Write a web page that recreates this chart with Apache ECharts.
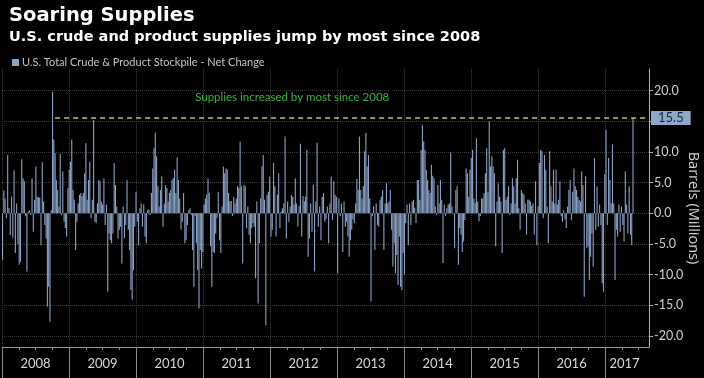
<!DOCTYPE html>
<html><head><meta charset="utf-8">
<script src="https://cdn.jsdelivr.net/npm/echarts@6/dist/echarts.min.js"></script>
<style>html,body{margin:0;padding:0;background:#000;}#c{width:704px;height:378px;}</style>
</head><body><div id="c"></div>
<script>
const titleText = 'Soaring Supplies';
const subtitleText = 'U.S. crude and product supplies jump by most since 2008';
const seriesName = 'U.S. Total Crude & Product Stockpile - Net Change';
const yAxisName = 'Barrels (Millions)';
const annotationText = 'Supplies increased by most since 2008';
const highlightValue = 15.5;
const highlightStart = [2008, 9, 17];   // year, month(0-based), day
const annotationAt = [2012, 4, 1];
const firstWeek = [2008, 0, 4];
const years = [2008, 2009, 2010, 2011, 2012, 2013, 2014, 2015, 2016, 2017];
const yTicks = [-20, -15, -10, -5, 0, 5, 10, 15, 20];

// weekly net change, million barrels
const weeksA = [-7.6, 3.7, 2.4, -0.8, 9.5, 0.8, -3.6, 2.7, -4.0, 7.0, -6.5, 1.6, -5.0, -8.4, -7.9, 8.8, 5.7, 5.2, -0.5, -9.5, 0.3, 0.5, -0.3, 5.7, -3.0, 2.2, 7.6, 2.7, 2.6, 2.5, -5.2, 8.3, 1.9, -1.9, -4.1, -15.2, -12.0, -17.7, 0.5, 19.8, 12.0, 9.8, 5.4, 3.8, 1.1, 9.7, -0.3, 6.8, -1.4, -2.4, -3.8, 4.1, 7.1, 8.4, 12.0, 3.8, 2.2, -6.0, -1.4, 1.6, 3.0, 3.3, 2.8, 3.3, 6.5, 11.4, 2.2];
const weeksB = [5.4, 8.4, -0.8, 2.2, 15.2, -1.4, -1.6, 1.6, 5.4, 5.2, 1.9, 1.4, 5.7, -1.9, 1.4, -12.8, -3.3, -4.4, -4.9, -3.3, 8.2, 4.6, 1.1, -4.1, -2.7, -2.2, -8.2, 1.1, -4.1, -1.9, 5.4, -2.7, -6.0, -12.5, -14.1, -9.3, -2.2, 3.5, -1.4, -5.2, 0.8, 1.6, -2.2, 1.4, -3.8, -4.9, 0.5, 0.6, -0.3, 3.3, 7.3, 10.6, 13.1, 9.3, 4.4, 1.1, 3.8, 6.0, -2.2, 1.6, 4.6, 4.1, 1.9, 3.3, 3.8, 5.4, 5.7];
const weeksC = [7.1, 3.3, 9.1, 5.4, 2.4, -2.7, -1.4, 3.3, -4.9, -4.4, -1.9, 0.5, 0.8, -0.3, -6.0, -12.0, -0.5, -4.9, -9.3, -15.5, -6.0, -9.0, -6.3, 1.4, 2.4, 3.0, 5.7, 3.3, -5.4, -12.0, -6.3, -6.5, -3.3, -0.8, 3.5, -4.4, -6.5, 1.1, 7.6, 6.5, 7.3, 7.1, 3.3, 1.9, 2.0, -0.4, 2.7, 1.6, 2.4, 4.4, 4.1, 11.7, 4.4, -8.2, 4.6, 4.4, -2.4, 1.1, -3.5, -4.9, -2.4, -1.6, -2.2, -10.6, 1.9, -14.7];
const weeksD = [-4.9, 2.4, 7.7, 9.5, 2.2, -18.2, 3.0, 3.5, 6.0, -3.8, -2.7, 8.2, 4.4, -3.8, 3.0, 6.5, -2.4, 0.3, 0.8, 1.6, 12.5, -4.1, 1.9, -1.4, 1.1, 3.0, 2.7, 1.4, 5.7, 1.6, -2.2, 1.2, 11.3, -3.8, 2.8, 1.9, 2.7, 10.3, -7.1, -4.1, 1.6, -3.0, 4.6, -9.5, 1.9, 11.5, -2.2, 1.1, -4.4, 2.7, 3.3, -1.4, -1.0, 1.1, -4.9, 1.6, 6.0, -1.1, 5.2, 3.0, 2.7, -9.8, 2.4, -0.5, 1.6, -6.3, 1.9];
const weeksE = [-2.2, -1.4, -3.8, -7.1, -4.4, -2.7, -1.0, -1.6, 1.6, 5.6, 3.8, 12.5, 3.8, 2.4, 4.4, 10.1, 13.1, 7.6, 9.5, 2.4, -14.4, -0.5, 1.1, -6.0, 1.6, -1.9, -2.2, 2.2, 2.7, 3.8, -6.0, 1.6, 4.9, 1.6, 1.9, 3.8, -2.7, -8.7, -4.9, -9.8, -6.8, -11.7, -3.8, -12.0, -12.5, -6.5, -10.0, -1.6, 1.4, -5.2, 1.6, -1.9, 1.9, 2.2, 0.9, -1.6, 5.4, 5.4, 2.2, 10.3, 14.4, 11.7, 10.3, 7.1, 5.4, 3.8];
const weeksF = [3.3, 7.9, 6.1, 5.7, 1.1, -0.3, 4.6, 1.6, 5.4, 2.2, -8.1, 1.4, -0.5, 0.8, 1.4, 1.6, 9.9, 1.1, -0.1, -5.7, 3.8, 4.4, -8.4, -2.4, -3.5, -6.3, -4.6, -1.1, 7.3, 6.5, 2.7, 7.1, 9.0, 10.3, 2.4, 1.7, 12.2, 1.9, -1.3, -0.5, 2.4, 2.4, 3.3, 6.5, 10.6, 3.5, 15.0, 7.6, 9.3, 7.6, 6.5, -5.4, 1.9, 4.9, 2.7, 1.9, -6.5, 10.3, 10.6, 2.2, 2.7, 4.4, -0.3, 1.6, 5.7, 4.4, 1.6];
const weeksG = [5.7, 8.7, 0.8, -2.7, 3.8, 3.3, 3.0, 1.6, -3.5, 2.2, 2.2, 1.9, 1.2, 1.6, -3.5, 5.2, -5.2, 1.1, 8.2, 10.3, 10.1, -0.8, 9.5, 7.1, 1.1, -4.9, 10.1, 4.4, 1.9, 7.1, 1.6, 7.1, 1.4, 2.2, 5.2, -0.5, -1.4, 0.5, -1.0, -2.4, 1.1, 3.8, 5.4, -1.1, 3.5, 7.3, 4.4, 3.8, 2.7, 2.2, 1.9, 6.8, 4.6, -13.6, 6.0, -5.7, -5.4, -10.9, -7.1, -3.3, -8.7, 9.0, -2.7, 4.4, -2.2, 1.4];
const weeksH = [-1.9, -11.4, -12.8, 6.3, 13.6, -1.9, 9.0, 5.4, 1.6, 11.2, 1.6, -10.9, -2.7, -3.8, 1.4, -3.0, 1.1, -1.9, -4.6, 6.8, 1.4, -3.3, 4.4, -3.5, -5.2, 15.5];

const values = [].concat(weeksA, weeksB, weeksC, weeksD, weeksE, weeksF, weeksG, weeksH);
const DAY = 86400000;
// convert a UTC timestamp to a fractional year for the value x-axis
function fy(t) {
  const y = new Date(t).getUTCFullYear();
  const a = Date.UTC(y, 0, 1), b = Date.UTC(y + 1, 0, 1);
  return y + (t - a) / (b - a);
}
const fyd = (y, m, d) => fy(Date.UTC(y, m, d));
const t0 = Date.UTC(firstWeek[0], firstWeek[1], firstWeek[2]);
const data = values.map((v, i) => [fy(t0 + i * 7 * DAY), v]);

const xMin = 2008;
const xMax = fyd(2017, 7, 28);
const yearLabelPos = years.map(y => y < 2017 ? y + 0.5 : fyd(2017, 3, 17));
const quarterTicks = [];
years.forEach(y => [0.25, 0.5, 0.75].forEach(q => { if (y + q < xMax) quarterTicks.push(y + q); }));

const barColor = '#8aa2c6';
const chart = echarts.init(document.getElementById('c'), null, {renderer: 'canvas'});
chart.setOption({
  backgroundColor: '#000',
  animation: false,
  title: {
    text: titleText, subtext: subtitleText, left: 4, top: 1, itemGap: 4,
    textStyle: {color: '#fff', fontSize: 19.5, fontWeight: 'bold', fontFamily: 'DejaVu Sans'},
    subtextStyle: {color: '#fff', fontSize: 14.5, fontWeight: 'bold', fontFamily: 'DejaVu Sans'}
  },
  legend: {
    left: 7, top: 52, itemWidth: 7, itemHeight: 7, icon: 'rect', itemGap: 5,
    textStyle: {color: '#c4c4c4', fontSize: 11, fontFamily: 'Lato', padding: [0, 0, 0, -2]},
    data: [seriesName]
  },
  grid: {left: 2, right: 55, top: 69, bottom: 31, containLabel: false, outerBoundsMode: 'none'},
  xAxis: [{
    type: 'value', min: xMin, max: xMax,
    axisLine: {show: true, onZero: false, lineStyle: {color: '#9a9a9a', width: 1}},
    axisTick: {show: true, customValues: years, length: 31, lineStyle: {color: '#8a8a8a'}},
    axisLabel: {show: true, customValues: yearLabelPos, margin: 10, color: '#d8d8d8', fontSize: 13, fontFamily: 'Lato',
      formatter: v => String(Math.floor(v))},
    splitLine: {show: true, lineStyle: {color: '#3c3c3c', type: 'dotted', width: 1}}
  }, {
    type: 'value', min: xMin, max: xMax, position: 'bottom', gridIndex: 0,
    axisLine: {show: false, onZero: false},
    axisTick: {show: true, customValues: quarterTicks, length: 3, lineStyle: {color: '#8a8a8a'}},
    axisLabel: {show: false},
    splitLine: {show: false}
  }],
  yAxis: {
    type: 'value', position: 'right', min: -21.8, max: 23.5,
    name: yAxisName, nameLocation: 'middle', nameRotate: -90, nameGap: 37, nameMoveOverlap: false,
    nameTextStyle: {color: '#d0d0d0', fontSize: 14.5, fontFamily: 'Open Sans'},
    axisLine: {show: true, lineStyle: {color: '#b0b0b0', width: 1}},
    axisTick: {show: true, customValues: yTicks, length: 4, lineStyle: {color: '#b0b0b0'}},
    axisLabel: {show: true, customValues: yTicks, margin: 5, color: '#d0d0d0', fontSize: 12.5, fontFamily: 'Lato',
      formatter: v => v.toFixed(1)},
    splitLine: {show: true, lineStyle: {color: '#3c3c3c', type: 'dotted', width: 1}}
  },
  series: [{
    name: seriesName, type: 'bar', xAxisIndex: 0, data: data, barWidth: 1.1,
    itemStyle: {color: barColor},
    markLine: {
      silent: true, symbol: 'none', animation: false,
      lineStyle: {color: '#a6d452', type: [5, 4], width: 1.6},
      label: {show: true, position: 'end', distance: 2, formatter: String(highlightValue),
        backgroundColor: '#8ea7ca', color: '#15263f', fontSize: 13, fontFamily: 'Lato',
        padding: [1, 7, 0, 7]},
      data: [[
        {coord: [fyd(highlightStart[0], highlightStart[1], highlightStart[2]), highlightValue]},
        {coord: [xMax, highlightValue]}
      ]]
    },
    markPoint: {
      silent: true, symbol: 'circle', symbolSize: 1, animation: false,
      itemStyle: {color: 'rgba(0,0,0,0)'},
      data: [{
        coord: [fyd(annotationAt[0], annotationAt[1], annotationAt[2]), highlightValue],
        label: {show: true, position: 'inside', offset: [0, -21], formatter: annotationText,
          color: '#38b838', fontSize: 11.5, fontFamily: 'Lato'}
      }]
    }
  }]
});
</script></body></html>
